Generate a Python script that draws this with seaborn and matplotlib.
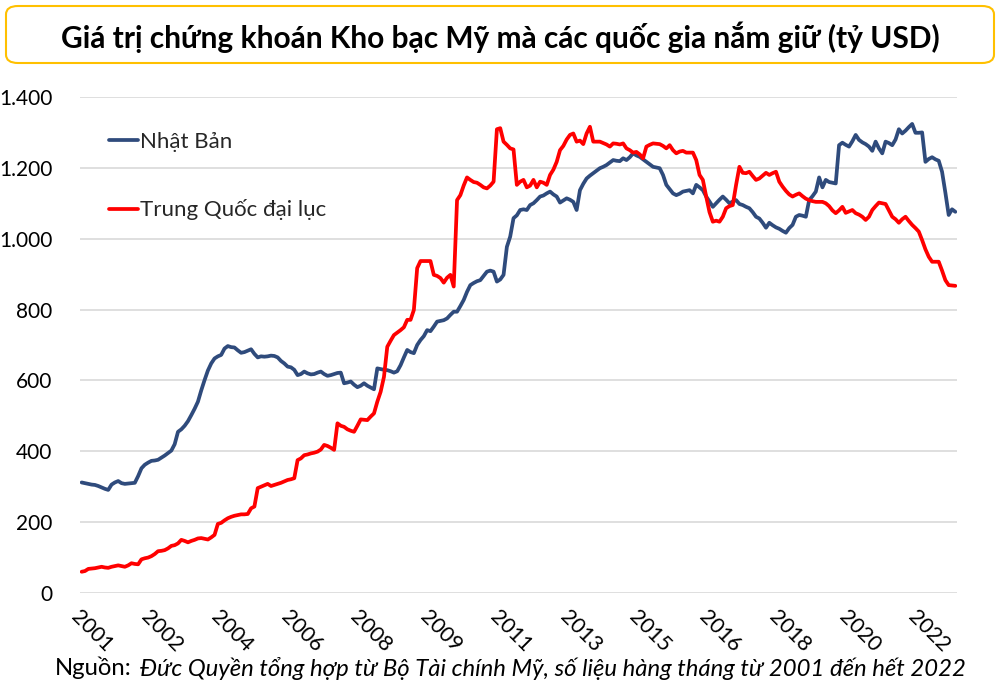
import numpy as np
import pandas as pd
import matplotlib
matplotlib.use("Agg")
import matplotlib.pyplot as plt
from matplotlib.patches import FancyBboxPatch
from matplotlib.ticker import FuncFormatter, MultipleLocator
import seaborn as sns

# ---------------- data (billion USD, monthly Jan 2001 - Dec 2022) ----------------
japan = [
    312, 310, 308, 306, 305, 302, 298, 294, 291, 306, 312, 316,          # 2001
    310, 308, 309, 310, 311, 330, 352, 362, 368, 373, 374, 376,          # 2002
    382, 388, 395, 402, 420, 455, 462, 472, 485, 502, 520, 540,          # 2003
    572, 601, 628, 648, 662, 668, 672, 690, 697, 694, 693, 685,          # 2004
    678, 680, 684, 688, 675, 665, 668, 667, 668, 670, 669, 665,          # 2005
    655, 648, 639, 637, 630, 615, 618, 625, 620, 617, 618, 622,          # 2006
    625, 618, 613, 615, 618, 621, 622, 592, 594, 597, 588, 581,          # 2007
    585, 592, 585, 580, 575, 634, 632, 630, 629, 626, 622, 626,          # 2008
    643, 665, 686, 680, 677, 700, 714, 725, 742, 739, 752, 766,          # 2009
    768, 770, 775, 785, 794, 794, 810, 827, 850, 869, 875, 880,          # 2010
    883, 895, 907, 910, 907, 879, 885, 898, 977, 1006, 1058, 1066,       # 2011
    1081, 1083, 1081, 1095, 1100, 1109, 1119, 1122, 1128, 1133, 1125, 1119,  # 2012
    1102, 1108, 1114, 1110, 1104, 1081, 1137, 1155, 1170, 1178, 1185, 1192,  # 2013
    1199, 1203, 1208, 1215, 1222, 1220, 1219, 1227, 1222, 1230, 1241, 1235,  # 2014
    1231, 1224, 1217, 1210, 1203, 1201, 1199, 1180, 1152, 1140, 1128, 1123,  # 2015
    1127, 1133, 1135, 1137, 1128, 1152, 1145, 1137, 1119, 1105, 1090, 1100,  # 2016
    1110, 1119, 1110, 1100, 1105, 1109, 1098, 1095, 1090, 1086, 1075, 1062,  # 2017
    1057, 1045, 1031, 1045, 1038, 1032, 1028, 1022, 1017, 1030, 1039, 1062,  # 2018
    1067, 1065, 1062, 1109, 1120, 1133, 1173, 1145, 1166, 1160, 1158, 1156,  # 2019
    1264, 1271, 1265, 1260, 1275, 1293, 1279, 1272, 1267, 1260, 1248, 1274,  # 2020
    1255, 1241, 1274, 1270, 1264, 1280, 1309, 1297, 1305, 1315, 1324, 1299,  # 2021
    1299, 1300, 1217, 1225, 1230, 1224, 1220, 1189, 1130, 1067, 1083, 1076,  # 2022
]

china = [
    60, 62, 68, 69, 70, 72, 74, 72, 71, 74, 76, 78,                      # 2001
    76, 74, 78, 84, 82, 81, 95, 98, 100, 104, 110, 118,                  # 2002
    119, 121, 126, 133, 135, 140, 150, 147, 143, 147, 150, 154,          # 2003
    155, 153, 151, 157, 164, 195, 198, 205, 211, 215, 218, 220,          # 2004
    222, 222, 223, 239, 244, 296, 300, 304, 308, 302, 305, 308,          # 2005
    311, 315, 319, 321, 324, 375, 380, 389, 391, 394, 396, 399,          # 2006
    405, 418, 415, 410, 404, 479, 472, 469, 462, 458, 455, 472,          # 2007
    490, 489, 488, 498, 507, 540, 568, 610, 695, 712, 728, 735,          # 2008
    742, 750, 771, 771, 799, 917, 937, 937, 937, 937, 898, 895,          # 2009
    889, 876, 890, 898, 865, 1109, 1123, 1150, 1173, 1166, 1160, 1158,   # 2010
    1152, 1145, 1142, 1150, 1161, 1309, 1312, 1274, 1265, 1255, 1252, 1152,  # 2011
    1161, 1166, 1145, 1150, 1166, 1145, 1161, 1158, 1152, 1180, 1195, 1217,  # 2012
    1250, 1262, 1280, 1293, 1297, 1274, 1277, 1267, 1297, 1316, 1274, 1274,  # 2013
    1274, 1270, 1266, 1260, 1269, 1268, 1266, 1269, 1255, 1250, 1243, 1245,  # 2014
    1238, 1227, 1260, 1265, 1269, 1268, 1267, 1262, 1255, 1264, 1250, 1241,  # 2015
    1246, 1248, 1243, 1243, 1243, 1222, 1180, 1166, 1119, 1075, 1048, 1051,  # 2016
    1048, 1062, 1086, 1092, 1095, 1152, 1203, 1186, 1185, 1189, 1177, 1166,  # 2017
    1170, 1178, 1186, 1180, 1185, 1189, 1161, 1147, 1135, 1125, 1119, 1124,  # 2018
    1128, 1120, 1113, 1109, 1106, 1104, 1104, 1104, 1100, 1092, 1080, 1072,  # 2019
    1080, 1090, 1073, 1077, 1081, 1072, 1068, 1062, 1053, 1062, 1081, 1092,  # 2020
    1102, 1100, 1098, 1080, 1062, 1055, 1045, 1055, 1062, 1050, 1039, 1030,  # 2021
    1020, 996, 970, 949, 935, 935, 935, 910, 883, 869, 868, 867,         # 2022
]

series_names = ["Nhật Bản", "Trung Quốc đại lục"]
series_colors = ["#2F4B7C", "#FF0000"]
tick_labels = ["2001", "2002", "2004", "2006", "2008", "2009", "2011",
               "2013", "2015", "2016", "2018", "2020", "2022"]
tick_step = 21  # months between labelled ticks
title = "Giá trị chứng khoán Kho bạc Mỹ mà các quốc gia nắm giữ (tỷ USD)"
source_label = "Nguồn:"
source_text = "Đức Quyền tổng hợp từ Bộ Tài chính Mỹ, số liệu hàng tháng từ 2001 đến hết 2022"

# ---------------- build frame ----------------
n = len(japan)
month_idx = np.arange(n)
df = pd.DataFrame({
    "month": np.concatenate([month_idx, month_idx]),
    "value": japan + china,
    "series": [series_names[0]] * n + [series_names[1]] * n,
})

# ---------------- style ----------------
sns.set_theme(style="white")
fams = ["Lato", "DejaVu Sans"]
plt.rcParams["font.family"] = fams

fig = plt.figure(figsize=(10, 6.99), dpi=100)
ax = fig.add_axes([0.08, 1 - 593 / 699, 0.877, (593 - 97) / 699])

sns.lineplot(data=df, x="month", y="value", hue="series",
             palette=dict(zip(series_names, series_colors)),
             linewidth=2.7, ax=ax, legend=True)

ax.set_xlim(-0.5, n - 0.5)
ax.set_ylim(0, 1400)
ax.yaxis.set_major_locator(MultipleLocator(200))
ax.yaxis.set_major_formatter(FuncFormatter(lambda v, p: f"{v:,.0f}".replace(",", ".")))
ax.grid(axis="y", color="#D9D9D9", linewidth=1.2)
ax.grid(axis="x", visible=False)
ax.set_axisbelow(True)
for s in ax.spines.values():
    s.set_visible(False)
ax.set_xlabel("")
ax.set_ylabel("")

ax.set_xticks(month_idx[::tick_step])
ax.set_xticklabels(tick_labels, rotation=-45, ha="left", va="top",
                   rotation_mode="anchor", fontsize=15.5, color="#000000")
ax.tick_params(axis="x", length=0, pad=10)
ax.tick_params(axis="y", length=0, pad=20, labelsize=15, labelcolor="#000000")

# legend
leg = ax.legend(loc="upper left", bbox_to_anchor=(0.033, 0.93), frameon=False,
                fontsize=16, handlelength=1.3, handletextpad=0.1,
                labelspacing=2.15, borderaxespad=0, borderpad=0)
for line in leg.get_lines():
    line.set_linewidth(2.7)

# title box
box = FancyBboxPatch((6 / 1000, 1 - 63 / 699), 988 / 1000, 57 / 699,
                     boxstyle="round,pad=0,rounding_size=0.012",
                     transform=fig.transFigure, facecolor="white",
                     edgecolor="#FFC000", linewidth=1.5, zorder=0)
fig.patches.append(box)
fig.text(0.5, 1 - 37 / 699, title, ha="center", va="center",
         fontsize=21.5, fontweight="bold", color="#000000", family=fams)

# source line
t1 = fig.text(55 / 1000, 1 - 668 / 699, source_label, ha="left", va="center",
              fontsize=17.2, color="#000000", family=fams)
fig.canvas.draw()
bb = t1.get_window_extent()
x2 = (bb.x1 + 8) / fig.bbox.width
fig.text(x2, 1 - 668 / 699, source_text, ha="left", va="center",
         fontsize=17.2, style="italic", color="#000000", family=fams)

fig.savefig("out.png", dpi=100)
